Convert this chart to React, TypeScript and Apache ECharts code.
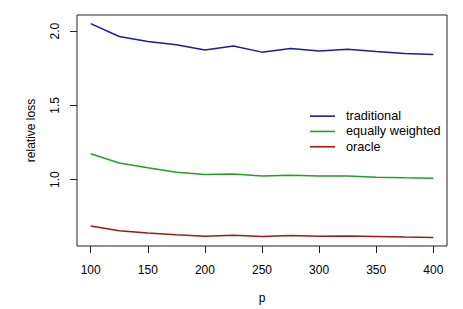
import React, { useEffect, useRef } from "react";
import * as echarts from "echarts";

const pValues = [100, 125, 150, 175, 200, 225, 250, 275, 300, 325, 350, 375, 400];
const traditional = [2.05, 1.963, 1.93, 1.907, 1.872, 1.9, 1.858, 1.882, 1.865, 1.878, 1.862, 1.849, 1.842];
const equallyWeighted = [1.174, 1.112, 1.079, 1.05, 1.034, 1.038, 1.025, 1.029, 1.025, 1.025, 1.016, 1.012, 1.009];
const oracle = [0.687, 0.656, 0.641, 0.629, 0.619, 0.626, 0.617, 0.624, 0.619, 0.621, 0.617, 0.613, 0.611];
const xTicks = [100, 150, 200, 250, 300, 350, 400];
const yTicks = [1.0, 1.5, 2.0];

const FONT = "Liberation Sans, Arial, Helvetica, sans-serif";

export default function App() {
  const ref = useRef<HTMLDivElement>(null);
  useEffect(() => {
    if (!ref.current) return;
    const chart = echarts.init(ref.current, undefined, { renderer: "svg" });
    const mk = (name: string, vals: number[], color: string) => ({
      name,
      type: "line",
      data: pValues.map((p, i) => [p, vals[i]]),
      symbol: "none",
      lineStyle: { color, width: 1.5 },
      itemStyle: { color },
    });
    chart.setOption({
      animation: false,
      backgroundColor: "#fff",
      grid: {
        left: 77,
        right: 16,
        top: 15,
        bottom: 62,
        show: true,
        borderColor: "#222",
        borderWidth: 1,
        backgroundColor: "transparent",
      },
      xAxis: {
        type: "value",
        min: 88,
        max: 412,
        name: "p",
        nameLocation: "middle",
        nameGap: 46,
        nameTextStyle: { color: "#000", fontSize: 12, fontFamily: FONT },
        axisLine: { show: false },
        splitLine: { show: false },
        axisTick: {
          show: true,
          customValues: xTicks,
          length: 7,
          lineStyle: { color: "#222", width: 1 },
        },
        axisLabel: {
          customValues: xTicks,
          margin: 18,
          color: "#000",
          fontSize: 12,
          fontFamily: FONT,
        },
      },
      yAxis: {
        type: "value",
        min: 0.553,
        max: 2.108,
        name: "relative loss",
        nameLocation: "middle",
        nameRotate: 90,
        nameGap: 40,
        nameTextStyle: { color: "#000", fontSize: 12, fontFamily: FONT },
        axisLine: { show: false },
        splitLine: { show: false },
        axisTick: {
          show: true,
          customValues: yTicks,
          length: 7,
          lineStyle: { color: "#222", width: 1 },
        },
        axisLabel: {
          customValues: yTicks,
          rotate: 90,
          margin: 16,
          color: "#000",
          fontSize: 12,
          fontFamily: FONT,
          formatter: (v: number) => v.toFixed(1),
        },
      },
      legend: {
        orient: "vertical",
        left: 310,
        top: 108.5,
        icon: "rect",
        itemWidth: 25,
        itemHeight: 1.6,
        itemGap: 0,
        padding: 0,
        textStyle: {
          color: "#000",
          fontSize: 12.7,
          fontFamily: FONT,
          lineHeight: 15.3,
          padding: [0, 0, 0, 6],
        },
        data: ["traditional", "equally weighted", "oracle"],
      },
      series: [
        mk("traditional", traditional, "#1c1c9c"),
        mk("equally weighted", equallyWeighted, "#22a022"),
        mk("oracle", oracle, "#a01818"),
      ],
    });
    return () => chart.dispose();
  }, []);
  return <div ref={ref} style={{ width: 463, height: 309, position: "absolute", left: 0, top: 0 }} />;
}
